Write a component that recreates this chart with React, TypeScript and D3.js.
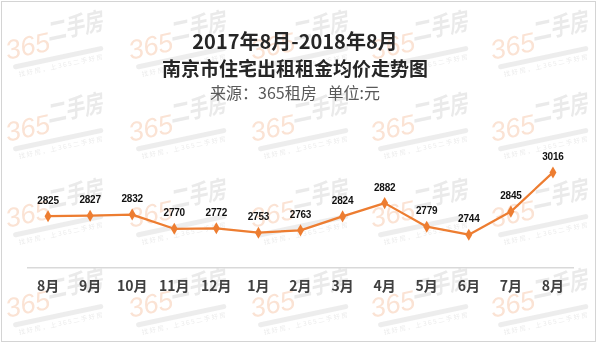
import React from "react";
import * as d3 from "d3";

const months = ["8月", "9月", "10月", "11月", "12月", "1月", "2月", "3月", "4月", "5月", "6月", "7月", "8月"];
const rents = [2825, 2827, 2832, 2770, 2772, 2753, 2763, 2824, 2882, 2779, 2744, 2845, 3016];
const titleLines = ["2017年8月-2018年8月", "南京市住宅出租租金均价走势图"];
const subtitle = "来源：365租房   单位:元";
const wmCols = [5, 128, 250, 370, 490];
const wmRows = [48, 130, 216, 306];

const W = 600;
const H = 344;
const CJK = "'Noto Sans CJK SC', 'Noto Sans', sans-serif";

export default function App() {
  const keys = months.map((m, i) => `${i}`);
  const x = d3.scaleBand<string>().domain(keys).range([27, 574]);
  const y = d3.scaleLinear().domain([2600, 3100]).range([267.7, 153.2]);
  const cx = (i: number) => (x(`${i}`) ?? 0) + x.bandwidth() / 2;
  const line = d3
    .line<number>()
    .x((_, i) => cx(i))
    .y((d) => y(d));
  const diamond = d3.symbol(d3.symbolDiamond, 42)() ?? "";

  return (
    <div style={{ position: "fixed", left: 0, top: 0 }}>
      <svg width={W} height={H} style={{ display: "block", background: "#fff" }}>
        <rect x={1.5} y={1.5} width={594} height={340} fill="#fff" stroke="#d4d4d4" strokeWidth={1} />
        <g opacity={0.3}>
          {wmRows.map((ry) =>
            wmCols.map((rx) => (
              <g key={`${rx}-${ry}`} transform={`translate(${rx},${ry}) rotate(-12)`}>
                <text x={0} y={12} fontFamily="'Liberation Sans', sans-serif" fontSize={27} fill="#f0a070" fontStyle="italic">
                  365
                </text>
                <g transform="translate(44,2) scale(1,1.3)">
                  <text x={0} y={0} fontFamily={CJK} fontSize={19} fill="#b8b8b8" fontStyle="italic" fontWeight={700}>
                    二手房
                  </text>
                </g>
                <rect x={4} y={18} width={92} height={5} rx={2.5} fill="#c4c4c4" />
                <text x={8} y={31} fontFamily={CJK} fontSize={6.5} fill="#bdbdbd" letterSpacing={1.5}>
                  找好房，上365二手好房
                </text>
              </g>
            ))
          )}
        </g>
        <text x={295} y={49} textAnchor="middle" fontFamily={CJK} fontWeight={700} fontSize={20} fill="#262626">
          {titleLines[0]}
        </text>
        <text x={295} y={75.5} textAnchor="middle" fontFamily={CJK} fontWeight={700} fontSize={19} fill="#262626">
          {titleLines[1]}
        </text>
        <text x={295} y={99} textAnchor="middle" fontFamily={CJK} fontSize={16} fill="#595959" xmlSpace="preserve">
          {subtitle}
        </text>
        <line x1={27} x2={574} y1={267.7} y2={267.7} stroke="#d9d9d9" strokeWidth={1.5} />
        <path d={line(rents) ?? ""} fill="none" stroke="#ED7D31" strokeWidth={2.25} strokeLinejoin="round" />
        {rents.map((v, i) => (
          <path key={`m${i}`} d={diamond} transform={`translate(${cx(i)},${y(v)})`} fill="#ED7D31" />
        ))}
        {rents.map((v, i) => (
          <text
            key={`l${i}`}
            x={cx(i)}
            y={y(v) - 12.5}
            textAnchor="middle"
            fontFamily="'Liberation Sans', Arial, sans-serif"
            fontWeight={700}
            fontSize={10}
            fill="#111"
            letterSpacing={-0.2}
          >
            {v}
          </text>
        ))}
        {months.map((m, i) => (
          <text
            key={`x${i}`}
            x={cx(i)}
            y={291}
            textAnchor="middle"
            fontFamily={CJK}
            fontWeight={700}
            fontSize={14}
            fill="#404040"
          >
            {m}
          </text>
        ))}
      </svg>
    </div>
  );
}
